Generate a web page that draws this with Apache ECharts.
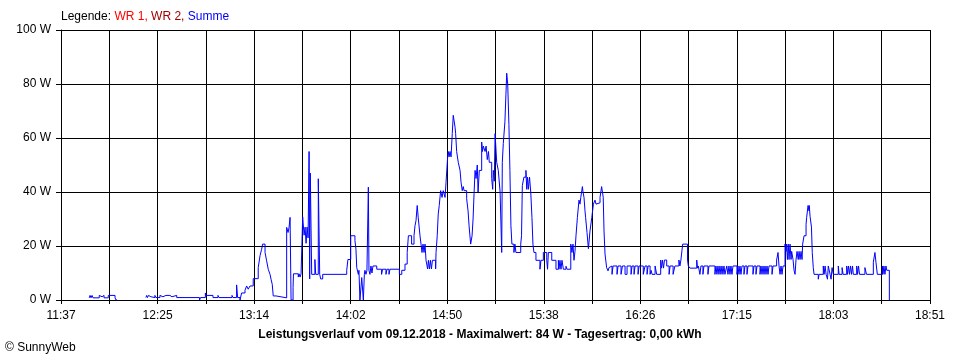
<!DOCTYPE html>
<html><head><meta charset="utf-8">
<script src="https://cdn.jsdelivr.net/npm/echarts@6/dist/echarts.min.js"></script>
<style>html,body{margin:0;padding:0;background:#fff}#c{width:960px;height:360px}</style>
</head><body><div id="c"></div>
<script>
// x values: minutes since 11:37, y values: power in W
const spanMinutes = 434; // 11:37 .. 18:51
const tickLabels = ['11:37','12:25','13:14','14:02','14:50','15:38','16:26','17:15','18:03','18:51'];
const yMax = 100, yStep = 20;

const readingsA = [[14.1,0.8],[14.5,1.7],[15.0,0.8],[15.5,1.7],[16.0,0.8],[19.1,1.7],[20.0,1.2],[20.5,1.7],[21.5,0.8],[23.6,1.7],[27.0,0.8],[27.5,0]];
const gapAB = [[28,null]];
const readingsB = [[42.4,0.9],[42.8,1.7],[43.2,0.9],[43.7,1.7],[44.4,1.2],[44.9,1.7],[45.4,0.9],[46.9,1.7],[47.4,0.9],[49.4,1.7],[49.9,1.2],[50.9,1.7],[52.4,1.2],[52.9,1.7],[54.4,1.2],[55.4,1.7],[57.8,0.9],[69.2,0],[69.7,0.9],[72.1,2.6],[72.4,1.7],[73.4,1.2],[73.9,1.7],[75.9,0.9],[78.4,1.7],[78.9,0.9],[85.4,1.7],[85.9,0.9],[87.7,5.6],[88.2,0.9],[89.4,0],[90.2,2.6],[91.9,3.6],[92.7,5.2],[93.5,4],[94.4,5.2],[96.0,7.9],[98.5,12],[99.4,16.4],[100.2,18.8],[100.7,20.7],[101.9,17.6],[102.7,14.5],[103.5,11.4],[104.4,9.5],[104.9,7.7],[105.5,5.8],[106.0,1.5],[106.4,0.8],[106.9,1.5],[107.4,0.8]];
const readingsC = [[112.7,26.9],[113.4,25],[113.9,26.9],[114.4,30.6],[114.9,0],[115.9,4.6],[116.1,9.7],[118.5,8.5],[118.9,9.7],[119.4,8.5],[119.9,9.7],[120.7,30.8],[121.4,24],[121.9,27],[122.4,21],[122.9,27],[123.4,23],[123.9,55],[124.2,7.8],[124.5,47],[125.2,9.5],[126.8,15],[127.2,9.5],[128.5,44.9],[129.2,9.5],[129.7,7.8],[130.7,9.5],[142.7,11],[143.3,15],[144.7,23.8],[146.8,22],[147.3,18.8],[147.7,12],[148.5,9.5],[148.8,11],[149.3,0],[150.2,8.3],[151.0,0],[151.5,9.5],[151.8,11],[152.3,9.5],[152.8,11],[153.5,41.8],[153.8,11],[154.3,9.5],[154.8,12.6],[155.3,10],[155.8,12.6],[157.7,11.4],[160.1,9.5],[160.6,11.4],[162.3,9.5],[162.8,11.4],[163.8,9.5],[164.3,11.4],[169.0,9.5],[170.2,11],[171.8,13.3],[172.9,17.6],[173.5,23.8],[175.1,20.7],[176.3,23.8],[176.8,27.5],[177.3,29.4],[177.9,35],[178.4,30.6],[179.3,23.8],[179.8,20.7],[180.3,17.6],[180.8,20.7],[181.3,17.6],[181.8,20.7],[182.3,14.7],[183.1,11.5],[183.5,14.7],[184.0,11.5],[184.5,14.7],[185.0,11.5],[185.5,14.7],[187.1,11.5],[187.3,17.6],[187.9,23.8],[188.4,31.8],[188.9,35],[189.6,40.5],[190.3,38],[190.9,40.5],[191.8,38],[192.3,43.6]];
const readingsD = [[193.1,53],[193.4,55],[193.8,53],[194.3,55],[194.8,53],[195.4,61.6],[195.9,68.4],[196.8,64],[197.1,61.6],[197.6,55],[198.4,51],[199.3,48],[199.8,43.6],[200.4,40.5],[200.9,42],[201.3,40.5],[202.6,37.5],[203.3,33],[203.8,27.5],[204.6,20.7],[205.3,23.8],[205.8,30],[206.3,39.5],[206.8,48],[207.3,45],[207.9,50],[208.3,40],[208.9,48],[210.1,58.5],[210.5,55],[210.9,57],[211.8,55],[212.3,57],[212.9,52],[213.5,55],[213.9,51],[215.1,45],[215.6,41],[215.9,48],[216.4,44],[216.8,61.6],[217.6,51],[218.4,48],[219.3,40],[220.1,17.6],[220.4,51],[220.9,58],[221.7,66],[222.2,76],[222.6,84],[223.1,80],[223.7,65],[224.2,48],[224.7,27.5],[225.2,20.7],[226.2,17.6],[226.7,20.7],[227.2,17.6],[229.6,20.7],[230.0,23.8],[230.4,42.4],[231.2,45.5],[232.2,48],[232.6,41],[233.0,45.5],[233.4,41],[234.0,45.5],[234.6,40],[235.2,30.6],[235.7,20.7],[236.2,17.6],[237.2,14.7]];
const readingsE = [[239.2,11.4],[239.7,14.7],[240.9,17.6],[242.6,14.7],[243.0,11.4],[243.4,17.6],[245.1,14.7],[247.2,11.4],[248.4,14.7],[248.7,11.4],[249.2,14.7],[249.7,11.4],[250.2,14.7],[250.9,11.4],[252.2,12.5],[252.7,11.4],[254.6,20.7],[255.2,17.6],[255.7,20.7],[256.2,14.7],[256.7,18],[257.2,23.8],[257.9,30.6],[258.7,37],[259.2,35.5],[259.6,38],[260.4,42],[260.7,40],[261.2,38],[261.7,33],[262.0,30.6],[262.7,25],[263.4,19],[264.2,25.6],[265.1,30.6],[265.9,35.5],[266.7,37],[267.2,35.5],[267.8,36],[269.2,38],[270.0,42],[270.4,40],[270.8,38],[271.2,25.6],[271.7,17],[272.5,12],[273.2,10.8],[273.7,12]];
const readingsF = [[274.2,12.6],[275.2,9.5],[275.7,12.6],[277.7,9.5],[278.2,12.6],[279.7,9.5],[280.4,12.6],[281.7,9.5],[282.7,12.6],[284.7,9.5],[285.2,12.6],[286.2,9.5],[286.7,12.6],[288.2,9.5],[288.7,12.6],[290.8,9.5],[291.7,12.6],[292.7,9.5],[293.2,12.6],[294.2,9.5],[294.7,11],[295.2,9.5],[296.7,12.6],[297.5,9.5],[299.5,14.8],[299.9,11.8],[300.4,14.8],[300.9,11.8],[301.4,14.8],[302.5,12.6],[303.7,9.5],[304.2,12.6],[305.7,9.5],[306.6,12.6],[308.6,14.8],[309.1,12.6],[309.6,14.8],[310.1,18.2],[310.5,20.7],[312.9,14.8],[313.3,12.6],[314.1,11.8],[317.5,14.8],[317.9,11.8],[318.3,12.6],[319.1,9.5],[319.6,12.6],[320.6,9.5],[321.1,12.6],[323.1,9.5],[323.6,12.6],[326.6,9.5],[327.1,12.6],[327.6,9.5],[328.1,12.6],[328.6,9.5],[329.1,12.6],[329.6,9.5],[330.1,12.6],[330.6,9.5],[331.1,12.6],[331.6,9.5],[332.5,12.6],[333.1,9.5],[333.6,12.6],[334.1,9.5],[334.6,12.6],[335.1,9.5],[335.6,12.6],[337.6,9.5],[338.1,12.6],[338.6,9.5],[339.1,12.6],[339.6,9.5],[340.1,12.6],[341.1,9.5],[341.6,12.6],[342.6,9.5],[343.1,12.6],[345.6,9.5],[346.1,12.6],[347.1,9.5],[347.6,12.6],[349.1,9.5],[349.6,12.6],[350.1,9.5],[350.6,12.6],[351.1,9.5],[351.6,12.6],[352.1,9.5],[352.6,12.6],[353.1,9.5],[353.6,12.6],[355.1,9.5],[355.6,12.6],[357.4,14.8],[358.1,17.6],[358.6,12.6],[359.1,9.5],[359.6,12.6],[360.1,9.5],[360.6,12.6]];
const readingsG = [[361.6,20.7],[362.1,18],[362.4,20.7],[362.8,15],[363.2,20.7],[363.6,15],[364.1,20.7],[364.6,15],[364.9,18],[365.6,15],[366.1,11],[366.6,9.5],[367.1,15],[367.6,18],[368.2,15],[368.6,18],[369.1,15],[369.6,18],[370.1,15],[370.4,20.7],[371.1,23.8],[372.1,28],[372.4,30.6],[372.7,31],[373.1,35],[373.6,33],[373.7,35],[374.1,31],[374.4,30.6],[374.8,27],[375.2,17.6],[375.7,12],[376.1,9.5],[378.2,7.7],[378.6,9.5],[380.7,12.6],[381.1,9.5],[381.6,12.6],[382.1,9.5],[382.8,7.7],[383.2,12.6],[384.1,9.5],[384.6,7.7],[385.1,12],[385.7,9.5],[388.2,12.6],[388.6,9.5],[390.1,12],[390.6,9.5],[392.4,12.6],[392.8,9.5],[393.3,12.6],[393.8,9.5],[394.3,12.6],[394.8,9.5],[395.3,12.6],[395.7,9.5],[397.4,12.6],[397.8,9.5],[398.3,12.6],[398.8,9.5],[401.5,12],[402.3,9.5],[405.7,14],[406.5,17.6],[407.0,14],[407.7,9.5],[410.2,12.6],[410.5,9.5],[411.0,12.6],[411.5,9.5],[412.0,12.6],[412.4,11],[413.7,0]];

const seriesData = [].concat(readingsA, gapAB, readingsB, readingsC, readingsD, readingsE, readingsF, readingsG);
const xStep = spanMinutes / 18;
const FONT = "'Liberation Sans', Arial, sans-serif";

const chart = echarts.init(document.getElementById('c'), null, {renderer: 'canvas'});
chart.setOption({
  animation: false,
  backgroundColor: '#fff',
  grid: {left: 61, right: 30, top: 30, bottom: 60, containLabel: false},
  title: {
    text: 'Leistungsverlauf vom 09.12.2018 - Maximalwert: 84 W - Tagesertrag: 0,00 kWh',
    left: 'center', top: 324,
    textStyle: {fontFamily: FONT, fontSize: 12, fontWeight: 'bold', color: '#000'}
  },
  graphic: [
    {type: 'text', left: 61, top: 11, style: {
      text: '{k|Legende: }{a|WR 1, }{b|WR 2, }{c|Summe}',
      rich: {
        k: {fill: '#000', fontSize: 12, fontFamily: FONT},
        a: {fill: '#ff0000', fontSize: 12, fontFamily: FONT},
        b: {fill: '#a00000', fontSize: 12, fontFamily: FONT},
        c: {fill: '#0000ff', fontSize: 12, fontFamily: FONT}
      }
    }},
    {type: 'text', left: 5, top: 342, style: {text: '\u00a9 SunnyWeb', fill: '#000', fontSize: 12, fontFamily: FONT}}
  ],
  xAxis: {
    type: 'value', min: 0, max: spanMinutes, interval: xStep,
    axisLine: {show: true, lineStyle: {color: '#000', width: 1}},
    axisTick: {show: true, length: 4, lineStyle: {color: '#000'}},
    splitLine: {show: true, lineStyle: {color: '#000', width: 1}},
    axisLabel: {
      color: '#000', fontSize: 12, fontFamily: FONT, margin: 10, hideOverlap: false,
      showMinLabel: true, showMaxLabel: true,
      formatter: function (v) {
        const k = Math.round(v / xStep);
        return k % 2 === 0 ? (tickLabels[k / 2] || '') : '';
      }
    }
  },
  yAxis: {
    type: 'value', min: 0, max: yMax, interval: yStep,
    axisLine: {show: true, lineStyle: {color: '#000', width: 1}},
    axisTick: {show: true, length: 5, lineStyle: {color: '#000'}},
    splitLine: {show: true, lineStyle: {color: '#000', width: 1}},
    axisLabel: {color: '#000', fontSize: 12, fontFamily: FONT, margin: 10, formatter: '{value} W'}
  },
  series: [{
    type: 'line', data: seriesData, step: 'end', showSymbol: false, symbol: 'none',
    connectNulls: false, lineStyle: {color: '#0000ff', width: 1}, itemStyle: {color: '#0000ff'},
    z: 3
  }]
});
</script>
</body></html>
